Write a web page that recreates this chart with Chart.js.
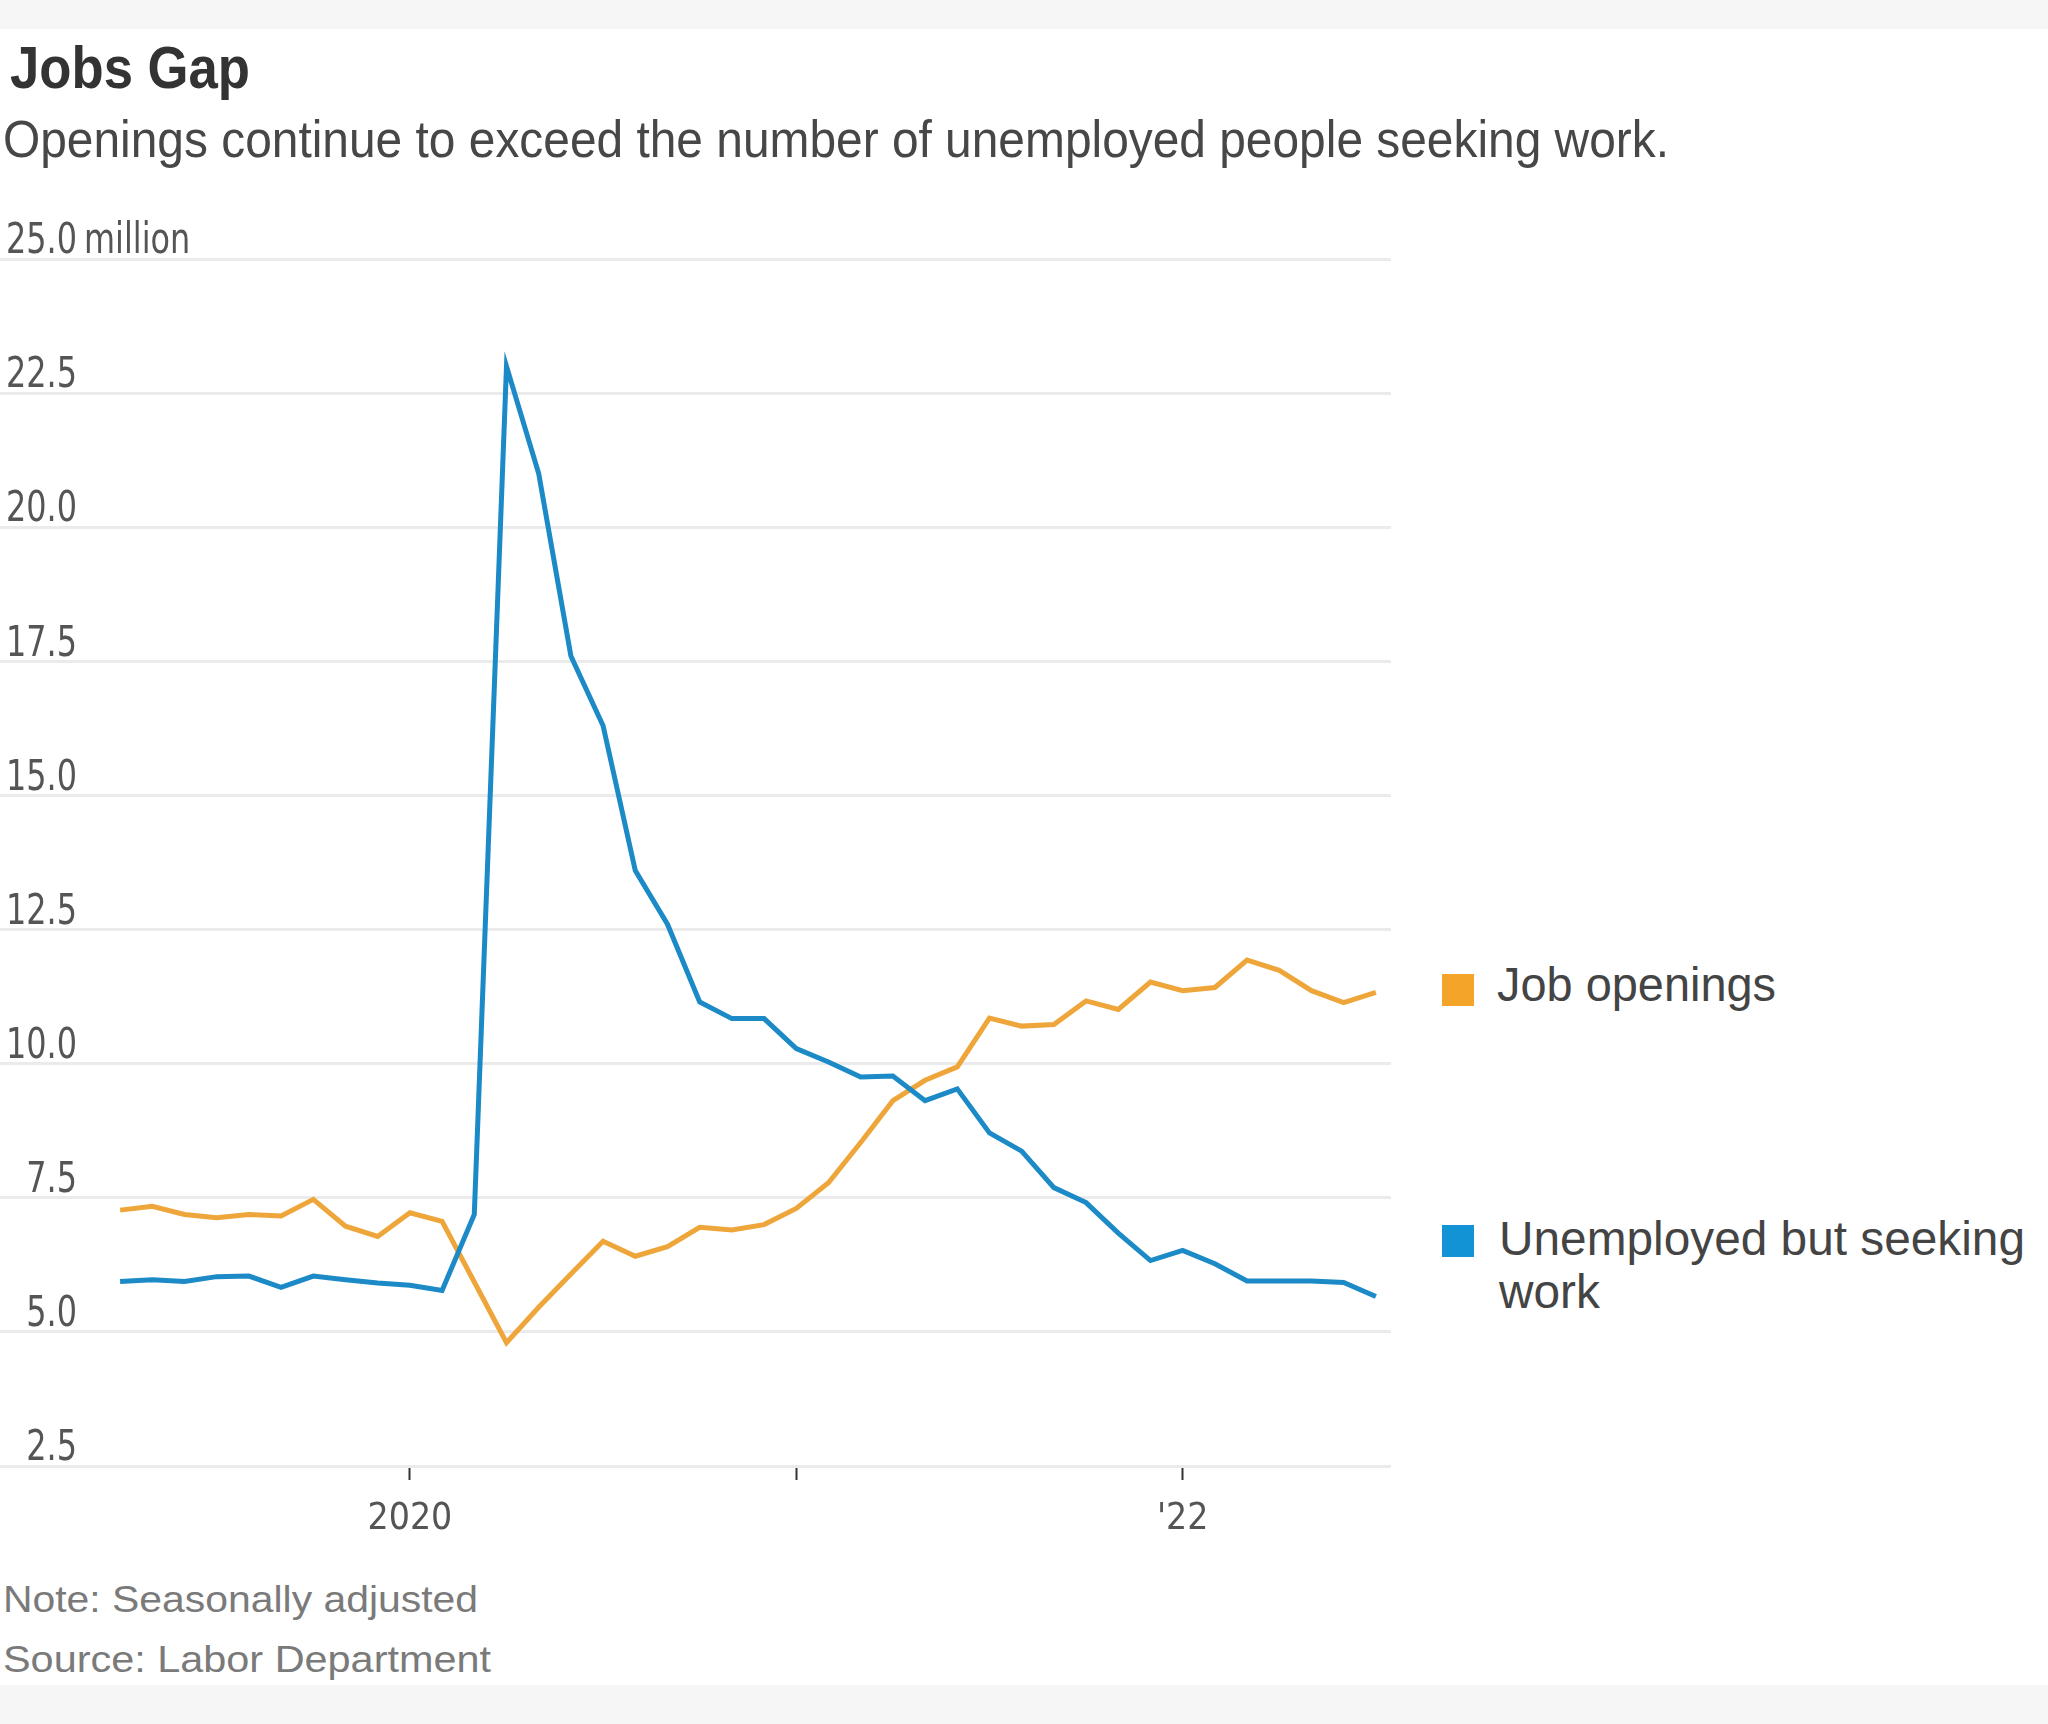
<!DOCTYPE html>
<html>
<head>
<meta charset="utf-8">
<script src="https://cdn.jsdelivr.net/npm/chart.js@4"></script>
<style>
  html, body { margin: 0; padding: 0; background: #fff; }
  body { width: 2048px; height: 1724px; position: relative; overflow: hidden; font-family: "Liberation Sans", Arial, sans-serif; }
  .band { position: absolute; left: 0; width: 2048px; background: #f6f6f6; }
  .txt { position: absolute; white-space: nowrap; line-height: 1; transform-origin: 0 0; }
  .sw { position: absolute; width: 32px; height: 32px; }
  #wrap { position: absolute; left: 0; top: 199px; width: 1391px; height: 1357px; }
</style>
</head>
<body>
<div class="band" style="top:0;height:29px"></div>
<div class="band" style="top:1685px;height:39px"></div>

<div class="txt" data-w="240" style="left:10px;top:38px;font-size:60px;font-weight:bold;color:#333">Jobs Gap</div>
<div class="txt" data-w="1666" style="left:3px;top:113px;font-size:52px;color:#474747">Openings continue to exceed the number of unemployed people seeking work.</div>

<div id="wrap"><canvas id="myChart" width="1391" height="1357"></canvas></div>

<div class="sw" style="left:1442px;top:974px;background:#f5a42a"></div>
<div class="txt" data-w="279" style="left:1497px;top:961px;font-size:48px;color:#444">Job openings</div>
<div class="sw" style="left:1442px;top:1225px;background:#1193d6"></div>
<div class="txt" data-w="526" style="left:1499px;top:1212px;font-size:48px;line-height:53px;color:#444">Unemployed but seeking<br>work</div>

<div class="txt" data-w="475" style="left:3px;top:1582px;font-size:36px;color:#7a7a7a">Note: Seasonally adjusted</div>
<div class="txt" data-w="488" style="left:3px;top:1642px;font-size:36px;color:#7a7a7a">Source: Labor Department</div>

<script>
// monthly, Apr 2019 - Jul 2022
const months = [
  "2019-04", "2019-05", "2019-06", "2019-07", "2019-08", "2019-09", "2019-10", "2019-11", "2019-12",
  "2020-01", "2020-02", "2020-03", "2020-04", "2020-05", "2020-06", "2020-07", "2020-08", "2020-09",
  "2020-10", "2020-11", "2020-12", "2021-01", "2021-02", "2021-03", "2021-04", "2021-05", "2021-06",
  "2021-07", "2021-08", "2021-09", "2021-10", "2021-11", "2021-12", "2022-01", "2022-02", "2022-03",
  "2022-04", "2022-05", "2022-06", "2022-07"
];
// millions
const jobOpenings = [
  7.27, 7.34, 7.19, 7.13, 7.19, 7.16, 7.47, 6.97, 6.78,
  7.22, 7.06, 5.93, 4.8, 5.46, 6.08, 6.69, 6.41, 6.59,
  6.95, 6.9, 7.0, 7.3, 7.78, 8.53, 9.31, 9.69, 9.94,
  10.85, 10.7, 10.73, 11.17, 11.01, 11.52, 11.36, 11.42, 11.93,
  11.74, 11.36, 11.14, 11.33
];
const unemployed = [
  5.94, 5.97, 5.94, 6.03, 6.04, 5.83, 6.04, 5.97, 5.91,
  5.87, 5.77, 7.19, 23.0, 21.0, 17.6, 16.3, 13.6, 12.6,
  11.15, 10.84, 10.84, 10.28, 10.03, 9.75, 9.77, 9.31, 9.53,
  8.71, 8.37, 7.69, 7.41, 6.84, 6.33, 6.52, 6.27, 5.95,
  5.95, 5.95, 5.92, 5.66
];
const seriesNames = ["Job openings", "Unemployed but seeking work"];
const xTickMonths = ["2020-01", "2021-01", "2022-01"];
const xTickLabels = ["2020", "", "'22"];
const yTickValues = [2.5, 5, 7.5, 10, 12.5, 15, 17.5, 20, 22.5, 25];
const yUnit = "million";

// squeeze HTML text to the widths of the original
document.querySelectorAll("[data-w]").forEach((el) => {
  const w = el.getBoundingClientRect().width;
  el.style.transform = "scaleX(" + el.dataset.w / w + ")";
});

// pick a condensed face for the axis text if one is installed
const probe = document.createElement("canvas").getContext("2d");
const hasFont = (name) => {
  probe.font = "40px monospace";
  const base = probe.measureText("25.0 million 2020").width;
  probe.font = '40px "' + name + '", monospace';
  return probe.measureText("25.0 million 2020").width !== base;
};
const narrow = ["Liberation Sans Narrow", "DejaVu Sans Condensed", "Roboto Condensed"].find(hasFont);
const tickFamily = narrow ? '"' + narrow + '"' : '"Liberation Sans", Arial, sans-serif';

const toPoints = (arr) => arr.map((v, i) => ({ x: i, y: v }));

// y labels sit above the grid lines, numbers right aligned, unit after the top one
const yLabels = {
  id: "yLabels",
  afterDraw(chart) {
    const scale = chart.scales.y;
    const ctx = chart.ctx;
    ctx.save();
    ctx.font = "43px " + tickFamily;
    ctx.fillStyle = "#555";
    ctx.textBaseline = "middle";
    const sx = 71 / ctx.measureText("22.5").width;
    yTickValues.forEach((v, i) => {
      const y = scale.getPixelForValue(v) - 17;
      ctx.save();
      ctx.translate(77, y);
      ctx.scale(sx, 1);
      ctx.textAlign = "right";
      ctx.fillText(v.toFixed(1), 0, 0);
      if (i === yTickValues.length - 1) {
        ctx.textAlign = "left";
        ctx.fillText(yUnit, 7 / sx, 0);
      }
      ctx.restore();
    });
    ctx.restore();
  },
};

const ctxLine = document.getElementById("myChart");

new Chart(ctxLine, {
  type: "line",
  data: {
    datasets: [
      {
        label: seriesNames[1],
        data: toPoints(unemployed),
        borderColor: "#1b8ac6",
        borderWidth: 5,
        pointRadius: 0,
        tension: 0,
        order: 0,
      },
      {
        label: seriesNames[0],
        data: toPoints(jobOpenings),
        borderColor: "#eea63a",
        borderWidth: 5,
        pointRadius: 0,
        tension: 0,
        order: 1,
      },
    ],
  },
  options: {
    responsive: false,
    animation: false,
    layout: { padding: { top: 60, left: 0, right: 0, bottom: 0 } },
    plugins: {
      legend: { display: false },
      tooltip: { enabled: false },
    },
    scales: {
      x: {
        type: "linear",
        min: -3.73,
        max: 39.47,
        border: { display: false },
        grid: {
          drawOnChartArea: false,
          drawTicks: true,
          tickLength: 14,
          tickColor: "#333",
          tickWidth: 2,
        },
        afterBuildTicks: (axis) => {
          axis.ticks = xTickMonths.map((m) => ({ value: months.indexOf(m) }));
        },
        afterFit: (axis) => {
          axis.height = 90;
        },
        ticks: {
          autoSkip: false,
          maxRotation: 0,
          padding: 17,
          color: "#555",
          font: { family: tickFamily, size: narrow ? 37 : 34 },
          callback: (value, index) => xTickLabels[index],
        },
      },
      y: {
        min: 2.5,
        max: 25,
        border: { display: false },
        grid: {
          color: "#ebebeb",
          lineWidth: 3,
          drawTicks: false,
        },
        afterBuildTicks: (axis) => {
          axis.ticks = yTickValues.map((v) => ({ value: v }));
        },
        afterFit: (axis) => {
          axis.width = 0;
        },
        ticks: { display: false },
      },
    },
  },
  plugins: [yLabels],
});
</script>
</body>
</html>
